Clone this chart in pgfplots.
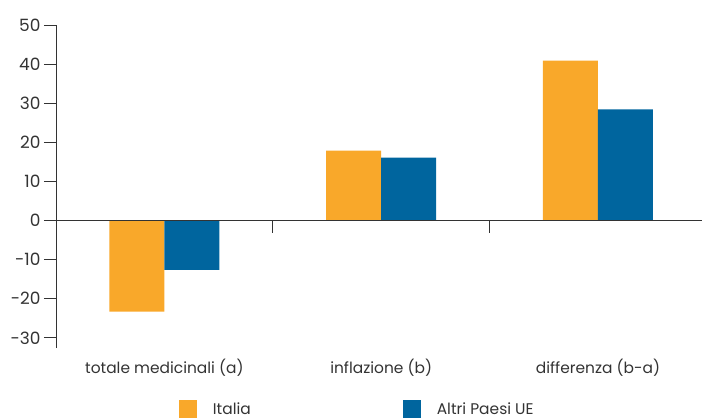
\documentclass[border=0pt]{standalone}
\usepackage{fontspec}
\setmainfont{Poppins}
\usepackage{pgfplots}
\pgfplotsset{compat=1.18}
\definecolor{itorange}{HTML}{F9A82A}
\definecolor{ueblue}{HTML}{00659E}
\definecolor{axgray}{HTML}{333333}
\begin{document}
\begin{tikzpicture}
\begin{axis}[
  scale only axis,
  width=646bp, height=323bp,
  xmin=-0.5, xmax=2.48,
  ymin=-32.6, ymax=50,
  ybar=0pt, bar width=55bp,
  axis y line=left,
  axis x line*=bottom,
  x axis line style={draw=none},
  y axis line style={-, draw=axgray, line width=0.8bp},
  xtick={0,1,2},
  xticklabels={totale medicinali (a), inflazione (b), differenza (b-a)},
  major x tick style={draw=none},
  ytick={-30,-20,-10,0,10,20,30,40,50},
  yticklabels={-30,-20,-10,0,10,20,30,40,50},
  ytick style={draw=axgray, line width=0.8bp},
  tick align=outside,
  major tick length=12bp,
  tick label style={font=\fontsize{15.5}{18}\selectfont, text=axgray},
  yticklabel style={font=\fontsize{17}{20}\selectfont},
  xticklabel style={yshift=4bp},
  legend columns=2,
  legend style={at={(rel axis cs:0.19,-0.16)}, anchor=north west, draw=none, inner sep=0pt,
    font=\fontsize{15.5}{18}\selectfont, text=axgray,
    /tikz/every even column/.append style={column sep=150bp}},
  legend image code/.code={\fill[#1] (0bp,-9bp) rectangle (18bp,9bp);},
  clip=false,
]
\addplot[fill=itorange, draw=none] coordinates {(0,-23.3) (1,17.9) (2,40.9)};
\addplot[fill=ueblue, draw=none] coordinates {(0,-12.6) (1,16.1) (2,28.4)};
\legend{\hspace{14bp}Italia, \hspace{14bp}Altri Paesi UE}
\draw[axgray, line width=0.8bp] (axis cs:-0.5,0) -- (axis cs:2.48,0);
\draw[axgray, line width=0.8bp] (axis cs:0.5,0) -- ([yshift=-12bp]axis cs:0.5,0);
\draw[axgray, line width=0.8bp] (axis cs:1.5,0) -- ([yshift=-12bp]axis cs:1.5,0);
\coordinate (SW) at (rel axis cs:0,0);
\coordinate (NE) at (rel axis cs:1,1);
\end{axis}
\pgfresetboundingbox
\path ([shift={(-56bp,-72bp)}]SW) rectangle ([shift={(0bp,25bp)}]NE);
\end{tikzpicture}
\end{document}
